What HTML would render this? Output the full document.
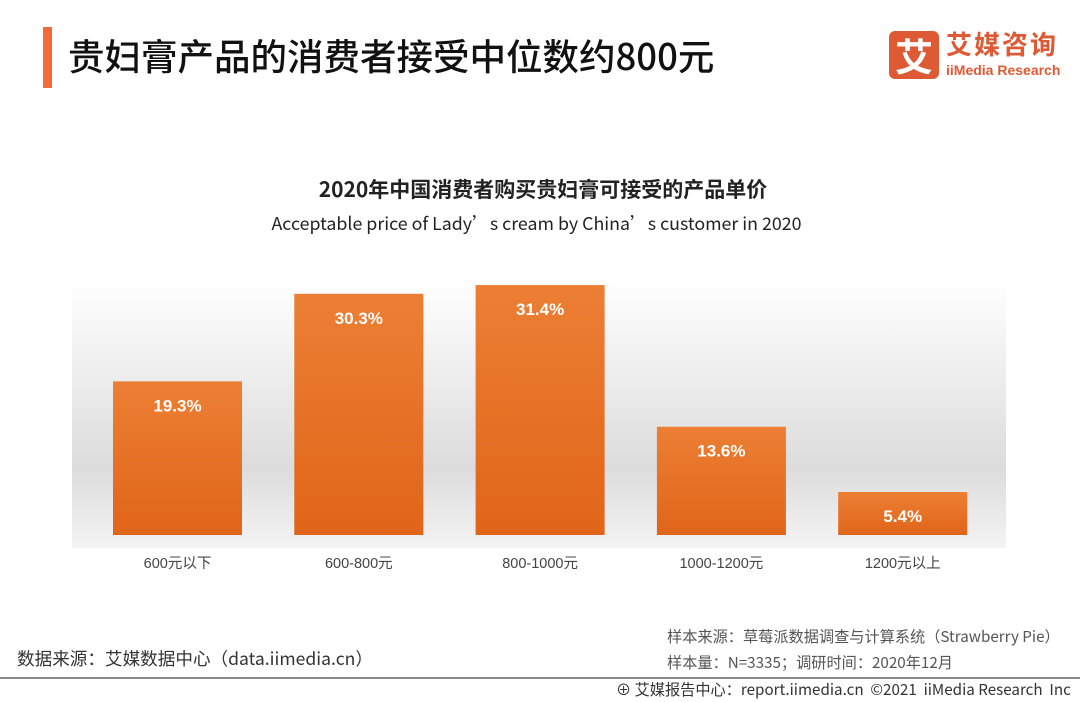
<!DOCTYPE html>
<html><head><meta charset="utf-8"><style>
body{margin:0;width:1080px;height:702px;background:#fff;position:relative;overflow:hidden;font-family:"Liberation Sans","Noto Sans CJK SC",sans-serif}
.abs{position:absolute}
</style></head><body>
<div class="abs" style="left:43px;top:27px;width:9px;height:61px;background:#f26a3a"></div>
<div class="abs" style="left:68px;top:30px;font-size:36.5px;font-weight:500;color:#111;white-space:nowrap;font-family:'Noto Sans CJK SC',sans-serif;line-height:50px">贵妇膏产品的消费者接受中位数约800元</div>
<div class="abs" style="left:889px;top:31px;width:50px;height:48px;background:#de5a35;border-radius:6px;color:#fff;font-size:38px;font-weight:bold;text-align:center;line-height:48px;font-family:'Noto Sans CJK SC',sans-serif">艾</div>
<div class="abs" style="left:946px;top:28px;font-size:26px;font-weight:bold;color:#de5a35;letter-spacing:2px;font-family:'Noto Sans CJK SC',sans-serif;line-height:32px">艾媒咨询</div>
<div class="abs" style="left:946px;top:62px;font-size:14px;color:#de5a35;font-weight:bold;white-space:nowrap">iiMedia Research</div>
<div class="abs" style="left:0;width:1086px;top:174px;text-align:center;font-size:21px;font-weight:bold;color:#222;font-family:'Noto Sans CJK SC',sans-serif">2020年中国消费者购买贵妇膏可接受的产品单价</div>
<div class="abs" style="left:0;width:1073px;top:210px;text-align:center;font-size:17.8px;color:#222;font-family:'Noto Sans CJK SC',sans-serif">Acceptable price of Lady’s cream by China’s customer in 2020</div>
<svg class="abs" style="left:0;top:0" width="1080" height="702">
<defs>
<linearGradient id="bg" x1="0" y1="0" x2="0" y2="1"><stop offset="0" stop-color="#fff"/><stop offset="0.7" stop-color="#dcdcdc"/><stop offset="1" stop-color="#f4f4f4"/></linearGradient>
<linearGradient id="bar" x1="0" y1="0" x2="0" y2="1"><stop offset="0" stop-color="#ec7f34"/><stop offset="1" stop-color="#e06519"/></linearGradient>
</defs>
<rect x="72" y="280" width="934" height="268" fill="url(#bg)"/>
<g id="bars"></g>
</svg>
<div class="abs" style="left:667px;top:625px;font-size:15.2px;color:#555;white-space:nowrap;font-family:'Noto Sans CJK SC',sans-serif">样本来源：草莓派数据调查与计算系统（Strawberry Pie）</div>
<div class="abs" style="left:667px;top:651px;font-size:15.2px;color:#555;white-space:nowrap;font-family:'Noto Sans CJK SC',sans-serif">样本量：N=3335；调研时间：2020年12月</div>
<div class="abs" style="left:17px;top:646px;font-size:17.6px;color:#333;white-space:nowrap;font-family:'Noto Sans CJK SC',sans-serif">数据来源：艾媒数据中心（data.iimedia.cn）</div>
<div class="abs" style="left:0;top:677px;width:1080px;height:2px;background:#888"></div>
<div class="abs" style="left:616px;top:678px;font-size:15.2px;color:#333;white-space:nowrap;font-family:'Noto Sans CJK SC',sans-serif">⊕ 艾媒报告中心：report.iimedia.cn &nbsp;©2021 &nbsp;iiMedia Research &nbsp;Inc</div>
<script>
const categories=["600元以下","600-800元","800-1000元","1000-1200元","1200元以上"];
const values=[19.3,30.3,31.4,13.6,5.4];
const labels=["19.3%","30.3%","31.4%","13.6%","5.4%"];
const base=535,scale=7.96,x0=113,step=181.3,bw=129;
const y=v=>base-v*scale;
const g=document.getElementById('bars');
const ns='http://www.w3.org/2000/svg';
values.forEach((v,i)=>{
  const x=x0+i*step;
  const r=document.createElementNS(ns,'rect');
  r.setAttribute('x',x);r.setAttribute('y',y(v));r.setAttribute('width',bw);r.setAttribute('height',base-y(v));r.setAttribute('fill','url(#bar)');
  
  
  g.appendChild(r);
  const t=document.createElementNS(ns,'text');
  t.setAttribute('x',x+bw/2);t.setAttribute('y',y(v)+30);t.setAttribute('text-anchor','middle');t.setAttribute('fill','#fff');t.setAttribute('font-size','17');t.setAttribute('font-weight','bold');t.setAttribute('font-family','Liberation Sans, sans-serif');
  t.textContent=labels[i];
  
  
  g.appendChild(t);
  const c=document.createElementNS(ns,'text');
  c.setAttribute('x',x+bw/2);c.setAttribute('y',568);c.setAttribute('text-anchor','middle');c.setAttribute('fill','#444');c.setAttribute('font-size','14.5');c.setAttribute('font-family','Liberation Sans, Noto Sans CJK SC, sans-serif');
  c.textContent=categories[i];
  
  
  g.appendChild(c);
});
</script>
</body></html>
